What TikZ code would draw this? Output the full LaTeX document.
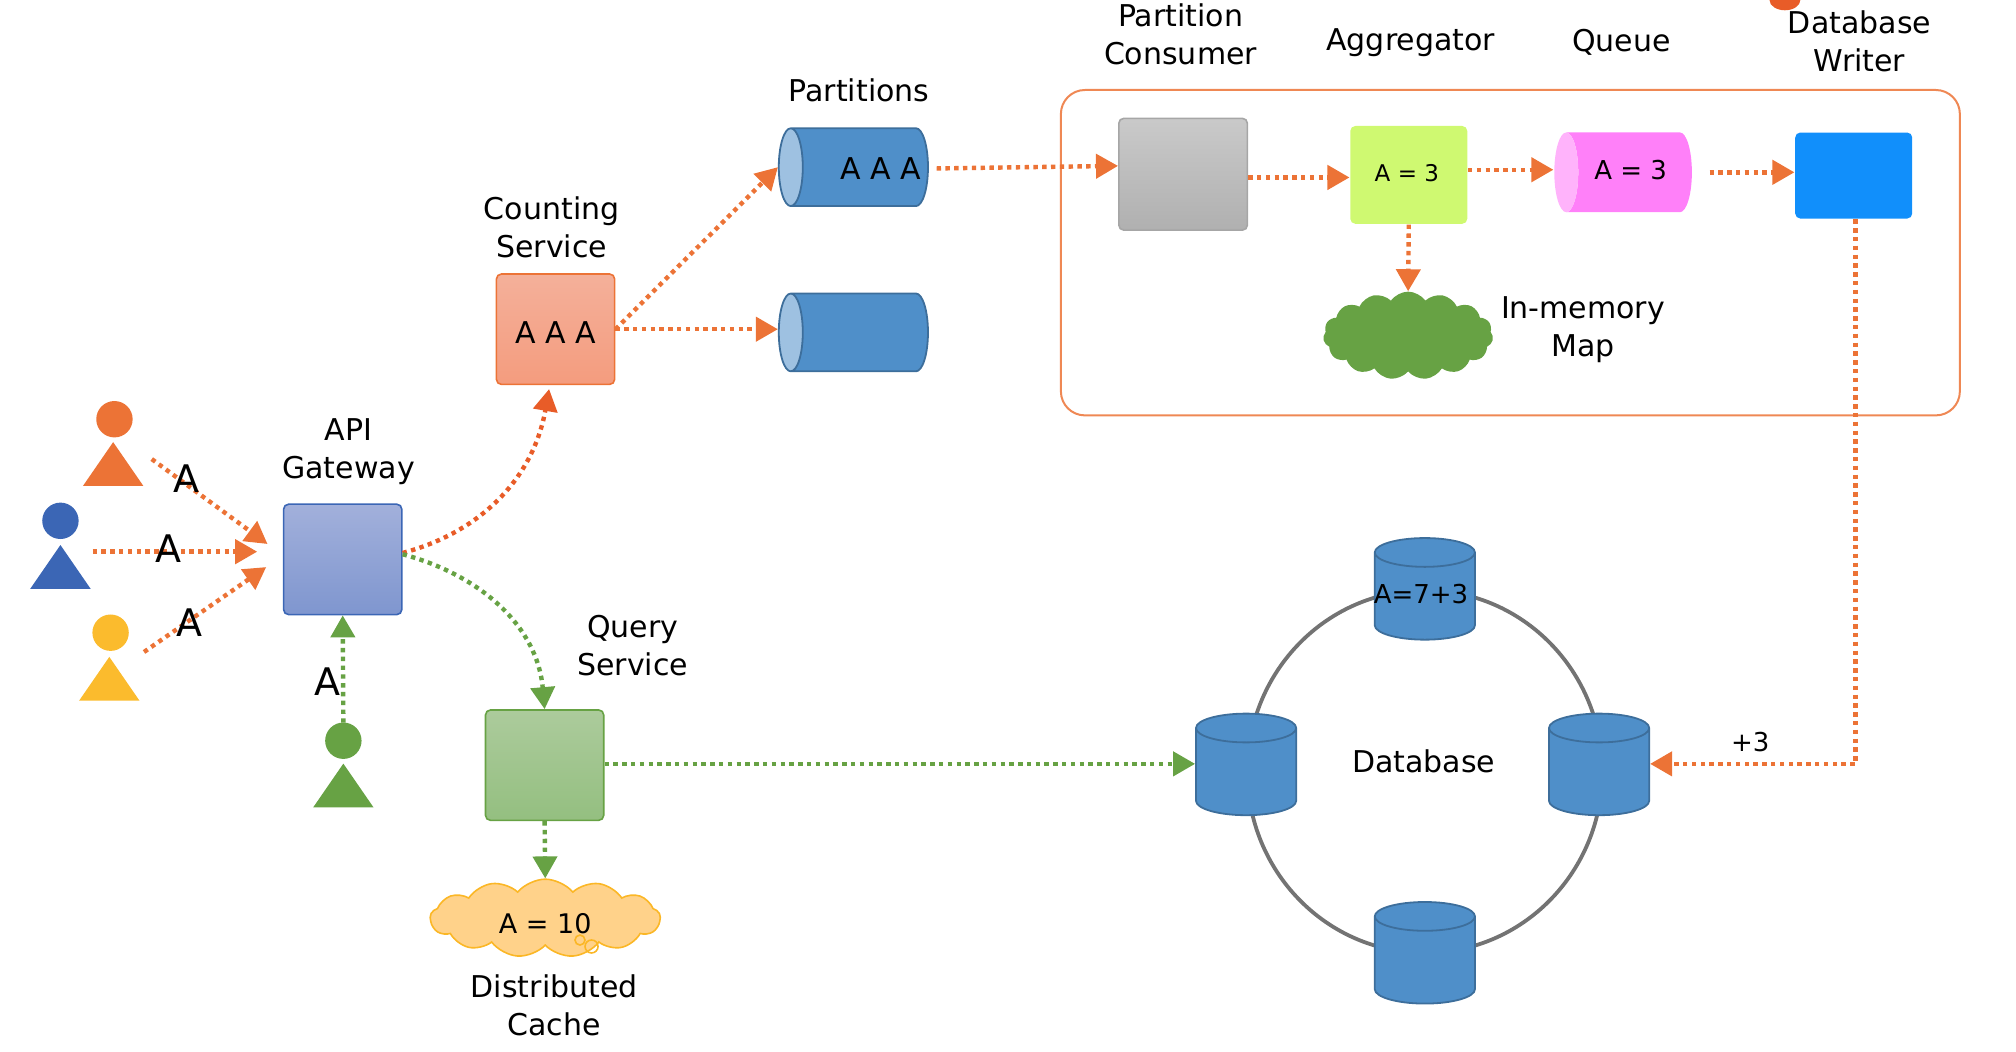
\documentclass[tikz,border=0pt]{standalone}
\usepackage{fontspec}
\setmainfont{DejaVu Sans}
\usetikzlibrary{arrows.meta,shapes.geometric,shapes.symbols,calc}
\definecolor{ar_orange}{RGB}{236, 115, 54}
\definecolor{ar_red}{RGB}{232, 92, 40}
\definecolor{ar_green}{RGB}{103, 162, 68}
\definecolor{db_blue}{RGB}{79, 143, 201}
\definecolor{db_edge}{RGB}{61, 110, 155}
\definecolor{us_blue}{RGB}{59, 102, 181}
\definecolor{us_yellow}{RGB}{251, 187, 45}
\definecolor{ca_edge}{RGB}{251, 183, 38}
\tikzstyle{lbl}=[font=\fontsize{15}{19}\selectfont,align=center,inner sep=0pt]
\tikzstyle{bigA}=[font=\fontsize{19}{22}\selectfont,inner sep=0pt]
\tikzstyle{box}=[rectangle,rounded corners=2.5pt,line width=0.8pt,inner sep=0pt,
  minimum width=59.1pt,minimum height=55.2pt]
\tikzstyle{partc}=[cylinder,shape border rotate=180,shape aspect=1,draw=db_edge,
  line width=0.9pt,cylinder uses custom fill,cylinder body fill=db_blue,
  cylinder end fill=db_blue!55!white,inner sep=6pt,minimum width=38.9pt,minimum height=74.6pt]
\tikzstyle{dbc}=[cylinder,shape border rotate=90,shape aspect=1.2,draw=db_edge,
  line width=0.9pt,fill=db_blue,inner sep=6pt,minimum width=50.1pt,minimum height=50.8pt]
\tikzstyle{head}=[circle,inner sep=0pt,minimum size=18.2pt]
\tikzstyle{body}=[isosceles triangle,isosceles triangle stretches,shape border rotate=90,
  anchor=apex,inner sep=0pt,minimum width=30.2pt,minimum height=21.9pt]
\tikzstyle{flow}=[line width=2.2pt,dash pattern=on 2.2pt off 2.2pt,
  -{Triangle[length=11pt,width=12pt]}]
\begin{document}
\begin{tikzpicture}[x=0.643pt,y=-0.643pt]
    \useasboundingbox (0,0) rectangle (1567.7,818);
    \node [box,rounded corners=12pt,draw=ar_orange!85!white,line width=1pt,minimum width=449.5pt,minimum height=162.7pt] (frame) at (1174.5,196.5) {};
    \draw [line width=1.9pt,draw=black!55] (1108,600) ellipse (138 and 141);

    \node [head,fill=ar_orange] (h1) at (89,326) {};
    \node [body,fill=ar_orange] (t1) at (88,343) {};
    \node [head,fill=us_blue] (h2) at (47,405) {};
    \node [body,fill=us_blue] (t2) at (47,423) {};
    \node [head,fill=us_yellow] (h3) at (86,492) {};
    \node [body,fill=us_yellow] (t3) at (85,510) {};
    \node [head,fill=ar_green] (h4) at (267,576) {};
    \node [body,fill=ar_green] (t4) at (267,593) {};

    \node [box,draw=us_blue,top color={rgb,255:red,162;green,176;blue,219},bottom color={rgb,255:red,127;green,150;blue,207}] (gw) at (266.5,435) {};
    \node [box,draw=ar_orange,top color={rgb,255:red,244;green,176;blue,154},bottom color={rgb,255:red,244;green,156;blue,126}] (count) at (432,256) {};
    \node [box,draw=ar_green,top color={rgb,255:red,172;green,203;blue,156},bottom color={rgb,255:red,148;green,191;blue,128}] (query) at (423.5,595) {};
    \node [box,minimum width=64.3pt,minimum height=55.9pt,draw=black!35,top color=black!21,bottom color=black!31] (cons) at (920,135.5) {};
    \node [box,minimum width=58.5pt,minimum height=48.9pt,fill={rgb,255:red,207;green,249;blue,113}] (aggr) at (1095.5,136) {};
    \node [box,minimum width=58.5pt,minimum height=43pt,fill={rgb,255:red,17;green,143;blue,251}] (writer) at (1441.5,136.5) {};

    \node [partc] (p1) at (672,130) {};
    \node [partc] (p2) at (672,258.5) {};
    \node [partc,draw=none,cylinder body fill={rgb,255:red,255;green,128;blue,249},cylinder end fill={rgb,255:red,255;green,179;blue,251},minimum width=39.9pt,minimum height=68.8pt] (q) at (1270.5,134) {};

    \node [dbc] (d1) at (1108,467.5) {};
    \node [dbc] (d2) at (969,604) {};
    \node [dbc] (d3) at (1243.5,604) {};
    \node [dbc] (d4) at (1108,750.5) {};

    \node [cloud,cloud puffs=15,cloud puff arc=110,aspect=1.8,fill=ar_green,inner sep=0pt,minimum width=85pt,minimum height=44pt] (mem) at (1095,261) {};
    \node [cloud,cloud puffs=13,cloud puff arc=100,aspect=3,draw=ca_edge,line width=0.8pt,fill={rgb,255:red,255;green,210;blue,138},inner sep=0pt,minimum width=115pt,minimum height=39pt] (cache) at (424,714) {};
    \node [circle,draw=ca_edge,line width=0.8pt,inner sep=0pt,minimum size=5pt] (b1) at (451,731) {};
    \node [circle,draw=ca_edge,line width=0.8pt,inner sep=0pt,minimum size=6.5pt] (b2) at (460,736) {};

    \coordinate (s1) at (118,357);
    \coordinate (e1) at (208,423);
    \coordinate (s2) at (72,429);
    \coordinate (e2) at (200,429);
    \coordinate (s3) at (112,507);
    \coordinate (e3) at (207,441);
    \coordinate (s4) at (267,562);
    \coordinate (turn) at (1443,594);
    \draw [flow,draw=ar_orange] (s1) to (e1);
    \draw [flow,draw=ar_orange] (s2) to (e2);
    \draw [flow,draw=ar_orange] (s3) to (e3);
    \draw [flow,draw=ar_green] (s4) to (gw.south);
    \draw [flow,draw=ar_red] (gw.east |- 0,430) to[out=15,in=-100] ($(count.south)+(-5,3)$);
    \draw [flow,draw=ar_green] (gw.east |- 0,431) to[out=-15,in=95] (query.north);
    \draw [flow,draw=ar_orange] (count.east) to (p1.west);
    \draw [flow,draw=ar_orange] (count.east) to (p2.west |- count.east);
    \draw [flow,draw=ar_orange] ($(p1.east)+(6,1)$) to (cons.west |- 0,129);
    \draw [flow,draw=ar_orange] (cons.east |- 0,138) to (aggr.west |- 0,138);
    \draw [flow,draw=ar_orange] (aggr.east |- 0,132) to (q.west |- 0,132);
    \draw [flow,draw=ar_orange] ($(q.east)+(13,0)$) to (writer.west |- q.east);
    \draw [flow,draw=ar_orange] (aggr.south) to (mem.north);
    \draw [flow,draw=ar_orange] (writer.south -| turn) to (turn) to (d3.east |- turn);
    \draw [flow,draw=ar_green] (query.east |- turn) to (d2.west |- turn);
    \draw [flow,draw=ar_green] (query.south) to (cache.north);

    \path [fill=ar_red] (1376,0) arc (180:0:12 and 8) -- cycle;

    \node [lbl] (lpart) at (668,70) {Partitions};
    \node [lbl] (lcount) at (429,177) {Counting\\Service};
    \node [lbl] (lgw) at (271,351) {API\\Gateway};
    \node [lbl] (lquery) at (492,502) {Query\\Service};
    \node [lbl] (lcache) at (431,782) {Distributed\\Cache};
    \node [lbl] (lcons) at (918,27) {Partition\\Consumer};
    \node [lbl] (laggr) at (1097,33) {Aggregator};
    \node [lbl] (lqueue) at (1261,33) {Queue};
    \node [lbl] (lwriter) at (1446,32) {Database\\Writer};
    \node [lbl] (lmem) at (1231,256) {In-memory\\Map};
    \node [lbl] (ldb) at (1107,592) {Database};
    \node [lbl,font=\fontsize{13}{16}\selectfont] (lplus) at (1361,577) {+3};
    \node [lbl,font=\fontsize{13}{16}\selectfont] (ld1) at (1105,462) {A=7+3};
    \node [lbl,font=\fontsize{11.5}{14}\selectfont] (tag) at (1094,135) {A = 3};
    \node [lbl,font=\fontsize{13}{16}\selectfont] (tq) at (1268,132) {A = 3};
    \node [lbl] (tp) at (685,131) {A A A};
    \node [lbl] (tc) at (432,259) {A A A};
    \node [lbl,font=\fontsize{13.5}{16}\selectfont] (tcache) at (424,718) {A = 10};
    \node [bigA] (a1) at (145,372) {A};
    \node [bigA] (a2) at (131,427) {A};
    \node [bigA] (a3) at (147,484) {A};
    \node [bigA] (a4) at (255,530) {A};
\end{tikzpicture}
\end{document}
